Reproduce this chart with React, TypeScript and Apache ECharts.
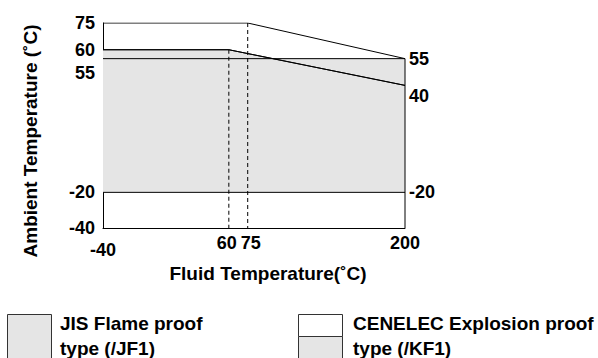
import React, { useEffect, useRef } from "react";
import * as echarts from "echarts";

// ---- data ----
const fluidTicks = [-40, 60, 75, 200];
const ambientLeftTicks = [-40, -20, 60, 75];
const ambientLeftLowTicks = [55];
const ambientRightTicks = [-20, 55];
const ambientRightLowTicks = [40];

const fluidMin = -40;
const fluidMax = 200;
const ambientMin = -40;
const ambientMax = 75;

// CENELEC upper limit line (white zone top)
const cenelecUpperX = [-40, 75, 200];
const cenelecUpperY = [75, 75, 55];
// CENELEC /KF1 gray zone top
const kf1X = [-40, 60, 200];
const kf1Y = [60, 60, 40];
// JIS /JF1 zone
const jisX = [-40, 200];
const jisTop = 55;
const jisBottom = -20;

const FONT = "'Liberation Sans', Arial, Helvetica, sans-serif";
const GRAY = "#e5e5e5";

function pairs(xs: number[], ys: number[]) {
  return xs.map((x, i) => [x, ys[i]]);
}

export default function App() {
  const ref = useRef<HTMLDivElement>(null);
  useEffect(() => {
    if (!ref.current) return;
    const chart = echarts.init(ref.current, null, { renderer: "svg" });
    const lbl = { fontSize: 18, fontWeight: "bold" as const, fontFamily: FONT, color: "#000" };
    const ylbl = { fontSize: 18, fontWeight: "bold" as const, color: "#000" };
    const ttl = { fontSize: 19, fontWeight: "bold" as const, fontFamily: FONT, color: "#000" };
    const black = { color: "#000", width: 1 };
    const hiddenAxis = {
      type: "value",
      min: ambientMin,
      max: ambientMax,
      axisLine: { show: false },
      axisTick: { show: false },
      splitLine: { show: false },
    };
    const option: any = {
      animation: false,
      grid: { left: 103, right: 193, top: 23, bottom: 130 },
      xAxis: {
        type: "value",
        min: fluidMin,
        max: fluidMax,
        axisLine: { show: true, onZero: false, lineStyle: black },
        axisTick: { show: false },
        splitLine: { show: false },
        axisLabel: {
          customValues: fluidTicks,
          margin: 6,
          ...lbl,
          formatter: (v: number) => {
            if (v === -40) return `{low|${v}}`;
            if (v === 60) return `{l|${v}}`;
            if (v === 75) return `{r|${v}}`;
            return `{n|${v}}`;
          },
          rich: {
            n: { ...lbl },
            low: { ...lbl, padding: [7, 0, 0, 0] },
            l: { ...lbl, padding: [0, 4, 0, 0] },
            r: { ...lbl, padding: [0, 0, 0, 6] },
          },
        },
        name: "Fluid Temperature(˚C)",
        nameLocation: "middle",
        nameGap: 34,
        nameTextStyle: { ...ttl, padding: [0, 0, 0, 28] },
      },
      yAxis: [
        {
          type: "value",
          min: ambientMin,
          max: ambientMax,
          axisLine: { show: true, onZero: false, lineStyle: black },
          axisTick: { show: false },
          splitLine: { show: false },
          axisLabel: { customValues: ambientLeftTicks, margin: 8, ...ylbl },
        },
        {
          ...hiddenAxis,
          position: "left",
          axisLabel: {
            customValues: ambientLeftLowTicks,
            margin: 8,
            ...ylbl,
            verticalAlign: "top",
            lineHeight: 28,
          },
        },
        {
          ...hiddenAxis,
          position: "right",
          axisLabel: { customValues: ambientRightTicks, margin: 4, ...ylbl },
        },
        {
          ...hiddenAxis,
          position: "right",
          axisLabel: {
            customValues: ambientRightLowTicks,
            margin: 4,
            ...ylbl,
            verticalAlign: "top",
            lineHeight: 22,
          },
        },
      ],
      series: [
        {
          name: "JIS zone",
          type: "line",
          z: 1,
          data: [],
          markArea: {
            silent: true,
            itemStyle: { color: GRAY, opacity: 1 },
            data: [[{ coord: [jisX[0], jisBottom] }, { coord: [jisX[1], jisTop] }]],
          },
        },
        {
          name: "KF1 zone",
          type: "line",
          z: 2,
          symbol: "none",
          data: pairs(kf1X, kf1Y),
          lineStyle: black,
          areaStyle: { color: GRAY, opacity: 1, origin: jisBottom },
        },
        {
          name: "JIS top",
          type: "line",
          z: 4,
          symbol: "none",
          data: [[jisX[0], jisTop], [jisX[1], jisTop], [jisX[1], ambientMin]],
          lineStyle: black,
        },
        {
          name: "JIS bottom",
          type: "line",
          z: 4,
          symbol: "none",
          data: [[jisX[0], jisBottom], [jisX[1], jisBottom]],
          lineStyle: black,
        },
        {
          name: "CENELEC upper",
          type: "line",
          z: 4,
          symbol: "none",
          data: pairs(cenelecUpperX, cenelecUpperY),
          lineStyle: black,
        },
        {
          name: "KF1 line",
          type: "line",
          z: 4,
          symbol: "none",
          data: pairs(kf1X, kf1Y),
          lineStyle: black,
        },
        {
          name: "dash 60",
          type: "line",
          z: 4,
          symbol: "none",
          data: [[kf1X[1], kf1Y[1]], [kf1X[1], ambientMin]],
          lineStyle: { color: "#000", width: 1, type: [4, 3] },
        },
        {
          name: "dash 75",
          type: "line",
          z: 4,
          symbol: "none",
          data: [[cenelecUpperX[1], cenelecUpperY[1]], [cenelecUpperX[1], ambientMin]],
          lineStyle: { color: "#000", width: 1, type: [4, 3] },
        },
      ],
      graphic: [
        {
          type: "text",
          x: 30,
          y: 141,
          rotation: Math.PI / 2,
          style: {
            text: "Ambient Temperature (˚C)",
            ...ttl,
            fill: "#000",
            align: "center",
            verticalAlign: "middle",
          },
        },
        {
          type: "rect",
          shape: { x: 7.5, y: 314.5, width: 44, height: 50 },
          style: { fill: GRAY, stroke: "#333", lineWidth: 1 },
        },
        {
          type: "text",
          x: 60,
          y: 311,
          style: {
            text: "JIS Flame proof\ntype (/JF1)",
            fontSize: 19,
            fontWeight: "bold",
            fontFamily: FONT,
            fill: "#000",
            lineHeight: 25,
          },
        },
        {
          type: "rect",
          shape: { x: 298.5, y: 336.5, width: 44, height: 30 },
          style: { fill: GRAY, stroke: "#333", lineWidth: 1 },
        },
        {
          type: "rect",
          shape: { x: 298.5, y: 314.5, width: 44, height: 22 },
          style: { fill: "#fff", stroke: "#333", lineWidth: 1 },
        },
        {
          type: "text",
          x: 353,
          y: 311,
          style: {
            text: "CENELEC Explosion proof\ntype (/KF1)",
            fontSize: 19,
            fontWeight: "bold",
            fontFamily: FONT,
            fill: "#000",
            lineHeight: 25,
          },
        },
      ],
    };
    chart.setOption(option);
    return () => chart.dispose();
  }, []);
  return (
    <div
      ref={ref}
      style={{ position: "fixed", left: 0, top: 0, width: 598, height: 358, background: "#fff" }}
    />
  );
}
